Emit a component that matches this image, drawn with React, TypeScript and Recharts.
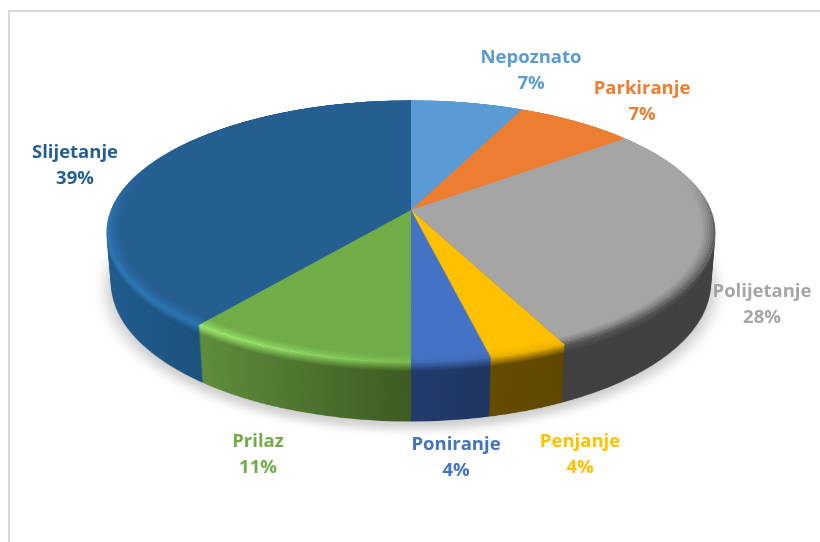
import { PieChart, Pie, Cell } from "recharts";

const categories = ["Nepoznato", "Parkiranje", "Polijetanje", "Penjanje", "Poniranje", "Prilaz", "Slijetanje"];
const shares = [7, 7.4, 28.4, 3.6, 3.6, 10.6, 39.4];

const topColors = ["#5B9BD5", "#ED7D31", "#A5A5A5", "#FFC000", "#4472C4", "#70AD47", "#255E91"];
const rimColors = ["#5B9BD5", "#ED7D31", "#5a5a5a", "#e6ad00", "#3f6ab5", "#9be870", "#2c78b8"];
const rimColorsFar = ["#5B9BD5", "#ED7D31", "#5a5a5a", "#e6ad00", "#3f6ab5", "#78b84e", "#2c78b8"];
const wallLeft = ["#3c6c99", "#a05420", "#404040", "#6b5000", "#223a6c", "#5f8d3c", "#1f5c8f"];
const wallRight = ["#3c6c99", "#a05420", "#404040", "#5f4700", "#1d3560", "#3d5a21", "#17405f"];
const labelCenters = [
  [531, 64],
  [642, 95],
  [762, 298],
  [580, 448],
  [456, 451],
  [258, 448],
  [75, 159],
];
// how the rim highlight fades over each slice: x1, y1, x2, y2, opacity at start, opacity at end, ramp start, ramp end
const rimFades = [
  [0, 0, 0, 1, 0, 0, 0, 1],
  [0, 0, 0, 1, 0, 0, 0, 1],
  [0, 0, 0, 1, 0, 1, 0.25, 0.5],
  [0, 0, 0, 1, 1, 1, 0, 1],
  [0, 0, 0, 1, 1, 1, 0, 1],
  [0, 0, 1, 0, 1, 0.25, 0.25, 1],
  [0, 0, 0, 1, 0, 1, 0.38, 0.62],
];

const pieData = categories.map((name, i) => ({ name, value: shares[i] }));

const CX = 411;
const CY = 210;
const SIZE = 620;
const RADIUS = 300;
const DEPTH = 58;
const BEVEL = 12;
const TRANSITION = 9;

const wallLayers = Array.from({ length: DEPTH }, (_, i) => DEPTH - i);
const rimSteps = [0.12, 0.25, 0.4, 0.55, 0.75, 1];
const bands = Array.from({ length: TRANSITION + 1 }, (_, b) => b);

function layerStyle(depth: number): React.CSSProperties {
  return {
    position: "absolute",
    left: CX - SIZE / 2,
    top: CY - SIZE / 2,
    width: SIZE,
    height: SIZE,
    transform: `perspective(1668px) rotateX(64.8deg) translateZ(${-depth}px)`,
    transformOrigin: "50% 50%",
  };
}

function mix(a: string, b: string, t: number) {
  const ch = (hex: string, p: number) => parseInt(hex.slice(p, p + 2), 16);
  const part = (p: number) => Math.round(ch(a, p) + (ch(b, p) - ch(a, p)) * t);
  return `rgb(${part(1)},${part(3)},${part(5)})`;
}

function Disc({ depth, fills, inner = 0, outer = RADIUS }: { depth: number; fills: string[]; inner?: number; outer?: number }) {
  return (
    <div style={layerStyle(depth)}>
      <PieChart width={SIZE} height={SIZE} margin={{ top: 0, right: 0, bottom: 0, left: 0 }}>
        <Pie
          data={pieData}
          dataKey="value"
          cx="50%"
          cy="50%"
          innerRadius={inner}
          outerRadius={outer}
          startAngle={90}
          endAngle={-270}
          stroke="none"
          isAnimationActive={false}
        >
          {pieData.map((d, i) => (
            <Cell key={d.name} fill={fills[i]} stroke="none" />
          ))}
        </Pie>
      </PieChart>
    </div>
  );
}

function renderLabel(props: any) {
  const i = props.index;
  const [x, y] = labelCenters[i];
  return (
    <text
      key={categories[i]}
      x={x}
      textAnchor="middle"
      fill={topColors[i]}
      style={{ fontFamily: "'Open Sans', sans-serif", fontWeight: 700, fontSize: 18.5 }}
    >
      <tspan x={x} y={y - 1}>{categories[i]}</tspan>
      <tspan x={x} y={y + 25}>{Math.round(shares[i])}%</tspan>
    </text>
  );
}

// band 0 is the rim colour, the last band is the plain wall
function wallFillsAt(depth: number) {
  const band = Math.min(depth, TRANSITION);
  return categories.map((_, i) => `url(#wall${band}-${i})`);
}

export default function App() {
  return (
    <div style={{ position: "absolute", left: 0, top: 0, width: 820, height: 542, overflow: "hidden", background: "#fff" }}>
      {/* frame */}
      <div style={{ position: "absolute", left: 8, top: 10, width: 812, height: 532, borderLeft: "2px solid #d9d9d9", borderTop: "2px solid #d9d9d9" }} />

      <svg width={0} height={0} style={{ position: "absolute" }}>
        <defs>
          {bands.map((b) =>
            categories.map((_, i) => {
              const t = b / TRANSITION;
              return (
                <linearGradient key={`${b}-${i}`} id={`wall${b}-${i}`} x1="0" y1="0" x2="1" y2="0">
                  <stop offset="0%" stopColor={mix(rimColors[i], wallLeft[i], t)} />
                  <stop offset="100%" stopColor={mix(rimColorsFar[i], wallRight[i], t)} />
                </linearGradient>
              );
            })
          )}
          {rimSteps.map((s, k) =>
            categories.map((_, i) => {
              const [x1, y1, x2, y2, from, to, a, z] = rimFades[i];
              const color = mix(topColors[i], rimColors[i], s);
              return (
                <linearGradient key={`${k}-${i}`} id={`rim${k}-${i}`} x1={x1} y1={y1} x2={x2} y2={y2}>
                  <stop offset={a} stopColor={color} stopOpacity={from} />
                  <stop offset={z} stopColor={color} stopOpacity={to} />
                </linearGradient>
              );
            })
          )}
        </defs>
      </svg>

      {/* ground shadow */}
      <div style={{ ...layerStyle(DEPTH + 4), filter: "blur(7px)" }}>
        <PieChart width={SIZE} height={SIZE} margin={{ top: 0, right: 0, bottom: 0, left: 0 }}>
          <Pie data={pieData} dataKey="value" cx="50%" cy="50%" outerRadius={RADIUS + 6} stroke="none" fill="#cfcfcf" isAnimationActive={false} />
        </PieChart>
      </div>

      {/* side wall, stacked from the bottom up */}
      {wallLayers.map((d) => (
        <Disc key={d} depth={d} fills={wallFillsAt(d)} />
      ))}

      {/* top face */}
      <Disc depth={0} fills={topColors} />

      {/* bevel rings along the rim */}
      {rimSteps.map((_, k) => (
        <Disc
          key={k}
          depth={0}
          inner={RADIUS - BEVEL + (k * BEVEL) / rimSteps.length}
          outer={RADIUS - BEVEL + ((k + 1) * BEVEL) / rimSteps.length}
          fills={categories.map((_, i) => `url(#rim${k}-${i})`)}
        />
      ))}

      {/* labels */}
      <div style={{ position: "absolute", left: 0, top: 0 }}>
        <PieChart width={820} height={542} margin={{ top: 0, right: 0, bottom: 0, left: 0 }}>
          <Pie
            data={pieData}
            dataKey="value"
            cx={CX}
            cy={CY}
            outerRadius={1}
            fill="none"
            stroke="none"
            startAngle={90}
            endAngle={-270}
            label={renderLabel}
            labelLine={false}
            isAnimationActive={false}
          />
        </PieChart>
      </div>
    </div>
  );
}
